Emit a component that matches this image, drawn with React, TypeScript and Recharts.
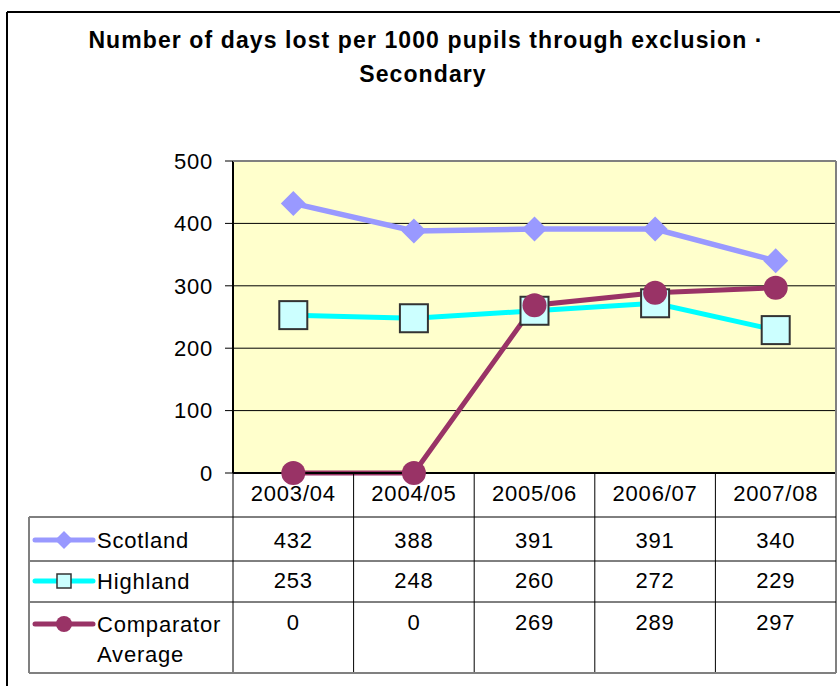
import React from 'react';
import { LineChart, Line, XAxis, YAxis, CartesianGrid } from 'recharts';

const categories = ['2003/04', '2004/05', '2005/06', '2006/07', '2007/08'];
const scotland = [432, 388, 391, 391, 340];
const highland = [253, 248, 260, 272, 229];
const comparator = [0, 0, 269, 289, 297];
const yTicks = [0, 100, 200, 300, 400, 500];
const titleLines = ['Number of days lost per 1000 pupils through exclusion ·', 'Secondary'];

const data = categories.map((c, i) => ({
  cat: c,
  scotland: scotland[i],
  highland: highland[i],
  comparator: comparator[i],
}));

const W = 840;
const H = 686;
const PLOT_LEFT = 233;
const PLOT_RIGHT = 836;
const PLOT_TOP = 161;
const PLOT_BOTTOM = 473;
const COL_W = (PLOT_RIGHT - PLOT_LEFT) / categories.length;
const TABLE_LEFT = 29;
const TABLE_BOTTOM = 673;
const ROW1 = 517;
const ROW2 = 561;
const ROW3 = 602;
const FONT = '"Liberation Sans", Arial, sans-serif';
const GRAY = '#808080';
const FS = 22;
const LS = 0.8;

const C_SCOT = '#9999FF';
const C_HIGH = '#00FFFF';
const C_COMP = '#993366';

const Diamond = ({ cx, cy, r, fill }: any) => (
  <path d={`M${cx},${cy - r} L${cx + r},${cy} L${cx},${cy + r} L${cx - r},${cy} Z`} fill={fill} />
);
const Square = ({ cx, cy, s }: any) => (
  <rect x={cx - s / 2} y={cy - s / 2} width={s} height={s} fill="#CCFFFF" stroke="#333333" strokeWidth={2} />
);

const TableTick = (props: any) => {
  const { x, payload } = props;
  const i = categories.indexOf(payload.value);
  const right = x + COL_W / 2;
  const last = i === categories.length - 1;
  const t = { textAnchor: 'middle' as const, fontSize: FS, letterSpacing: LS, fill: '#000', fontFamily: FONT };
  return (
    <g>
      <text x={x} y={501} {...t}>{payload.value}</text>
      <text x={x} y={548} {...t}>{scotland[i]}</text>
      <text x={x} y={588} {...t}>{highland[i]}</text>
      <text x={x} y={630} {...t}>{comparator[i]}</text>
      <line x1={right} x2={right} y1={PLOT_BOTTOM} y2={TABLE_BOTTOM} stroke={last ? GRAY : '#000'} strokeWidth={last ? 2 : 1} />
    </g>
  );
};

const LegendKey = ({ y, color, kind }: any) => (
  <g>
    <line x1={35} x2={93} y1={y} y2={y} stroke={color} strokeWidth={5} strokeLinecap="round" />
    {kind === 'diamond' && <Diamond cx={64} cy={y} r={9} fill={color} />}
    {kind === 'square' && (
      <rect x={57} y={y - 7} width={14} height={14} fill="#CCFFFF" stroke="#333333" strokeWidth={1.5} />
    )}
    {kind === 'circle' && <circle cx={64} cy={y} r={8} fill={color} />}
  </g>
);

export default function App() {
  const lt = { fontSize: FS, letterSpacing: LS, fill: '#000', fontFamily: FONT };
  const tt = { textAnchor: 'middle' as const, fontSize: 23, letterSpacing: 1.1, fontWeight: 'bold', fontFamily: FONT, fill: '#000' };
  return (
    <div style={{ position: 'absolute', left: 0, top: 0, width: W, height: H, background: '#fff' }}>
      <LineChart
        width={W}
        height={H}
        data={data}
        margin={{ top: PLOT_TOP, left: PLOT_LEFT - 60, right: W - PLOT_RIGHT, bottom: H - PLOT_BOTTOM - 200 }}
      >
        <CartesianGrid fill="#FFFFCC" vertical={false} stroke="#000" strokeOpacity={1} />
        <XAxis
          dataKey="cat"
          height={200}
          padding={{ left: COL_W / 2, right: COL_W / 2 }}
          tickLine={false}
          axisLine={{ stroke: '#000', strokeWidth: 2 }}
          tick={(p: any) => <TableTick {...p} />}
          interval={0}
        />
        <YAxis
          width={60}
          domain={[0, 500]}
          ticks={yTicks}
          tickSize={8}
          tickMargin={12}
          axisLine={{ stroke: '#000', strokeWidth: 2 }}
          tickLine={{ stroke: '#000' }}
          tick={{ fontSize: FS, letterSpacing: LS, fill: '#000', fontFamily: FONT }}
        />
        <Line
          dataKey="scotland"
          stroke={C_SCOT}
          strokeWidth={5.5}
          isAnimationActive={false}
          dot={(p: any) => <Diamond key={`s${p.index}`} cx={p.cx} cy={p.cy} r={12.5} fill={C_SCOT} />}
          activeDot={false}
        />
        <Line
          dataKey="highland"
          stroke={C_HIGH}
          strokeWidth={5}
          isAnimationActive={false}
          dot={(p: any) => <Square key={`h${p.index}`} cx={p.cx} cy={p.cy} s={28} />}
          activeDot={false}
        />
        <Line
          dataKey="comparator"
          stroke={C_COMP}
          strokeWidth={5}
          isAnimationActive={false}
          dot={(p: any) => <circle key={`c${p.index}`} cx={p.cx} cy={p.cy} r={12} fill={C_COMP} />}
          activeDot={false}
        />
      </LineChart>
      <svg
        width={W}
        height={H}
        style={{ position: 'absolute', left: 0, top: 0, pointerEvents: 'none' }}
      >
        <line x1={7} x2={W} y1={12} y2={12} stroke="#000" strokeWidth={2} />
        <line x1={7} x2={7} y1={12} y2={H} stroke="#000" strokeWidth={2} />
        <text x={426} y={48} {...tt}>{titleLines[0]}</text>
        <text x={423} y={82} {...tt}>{titleLines[1]}</text>
        <line x1={PLOT_LEFT} x2={PLOT_RIGHT} y1={PLOT_TOP} y2={PLOT_TOP} stroke={GRAY} strokeWidth={2} />
        <line x1={PLOT_RIGHT} x2={PLOT_RIGHT} y1={PLOT_TOP} y2={TABLE_BOTTOM} stroke={GRAY} strokeWidth={2} />
        <line x1={PLOT_LEFT} x2={PLOT_LEFT} y1={PLOT_BOTTOM} y2={TABLE_BOTTOM} stroke="#000" strokeWidth={1} />
        <line x1={TABLE_LEFT} x2={PLOT_RIGHT} y1={ROW1} y2={ROW1} stroke="#000" strokeWidth={1} />
        <line x1={TABLE_LEFT} x2={PLOT_RIGHT} y1={ROW2} y2={ROW2} stroke="#000" strokeWidth={1} />
        <line x1={TABLE_LEFT} x2={PLOT_RIGHT} y1={ROW3} y2={ROW3} stroke="#000" strokeWidth={1} />
        <line x1={TABLE_LEFT} x2={TABLE_LEFT} y1={ROW1} y2={TABLE_BOTTOM} stroke={GRAY} strokeWidth={2} />
        <line x1={TABLE_LEFT} x2={PLOT_RIGHT} y1={TABLE_BOTTOM} y2={TABLE_BOTTOM} stroke={GRAY} strokeWidth={2} />
        <LegendKey y={540} color={C_SCOT} kind="diamond" />
        <LegendKey y={581} color={C_HIGH} kind="square" />
        <LegendKey y={624} color={C_COMP} kind="circle" />
        <text x={97} y={548} {...lt}>Scotland</text>
        <text x={97} y={589} {...lt}>Highland</text>
        <text x={97} y={632} {...lt}>Comparator</text>
        <text x={97} y={662} {...lt}>Average</text>
      </svg>
    </div>
  );
}
